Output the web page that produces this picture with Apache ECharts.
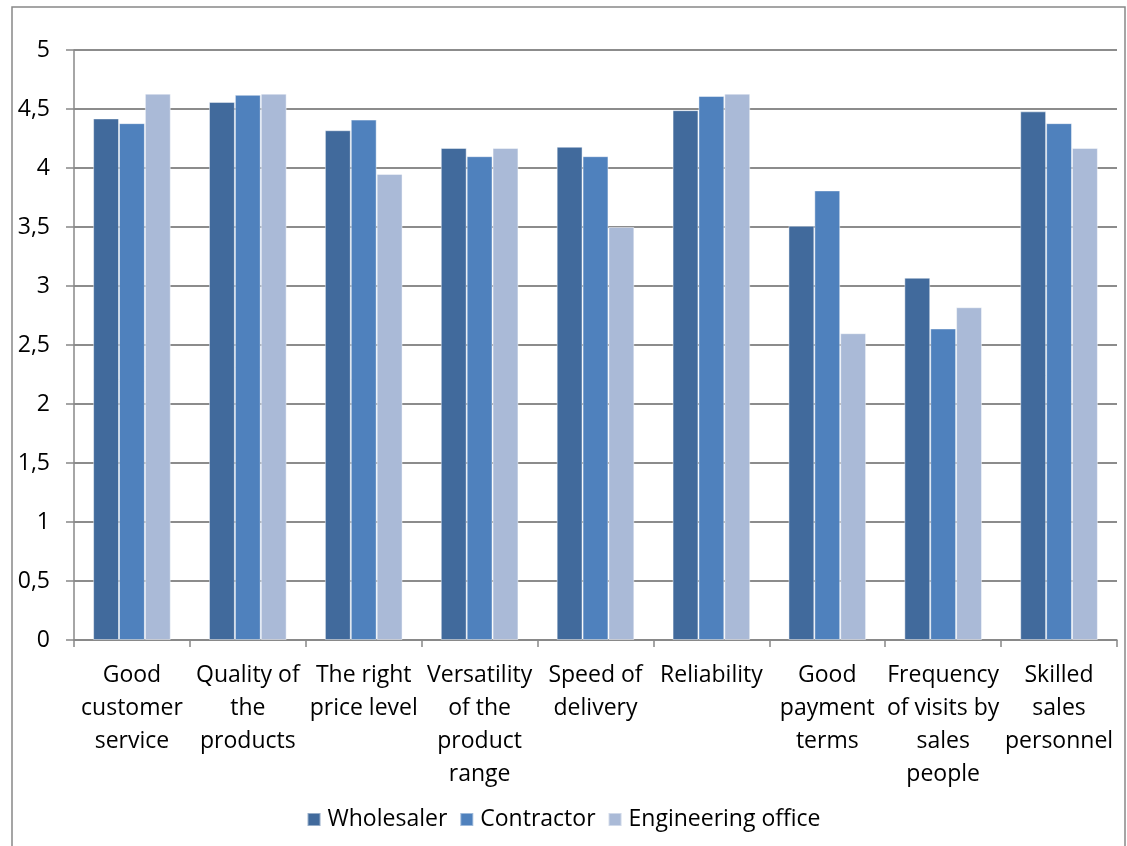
<!DOCTYPE html>
<html>
<head>
<meta charset="utf-8">
<title>Importance of supplier attributes</title>
<script src="https://cdn.jsdelivr.net/npm/echarts@6/dist/echarts.min.js"></script>
<style>
  html, body { margin: 0; padding: 0; background: #ffffff; }
  #chart { width: 1127px; height: 846px; }
</style>
</head>
<body>
<div id="chart"></div>
<script>
// Attribute names (category axis) and their wrapped tick labels
const categories = [
  'Good customer service',
  'Quality of the products',
  'The right price level',
  'Versatility of the product range',
  'Speed of delivery',
  'Reliability',
  'Good payment terms',
  'Frequency of visits by sales people',
  'Skilled sales personnel'
];
const categoryLabels = [
  'Good\ncustomer\nservice',
  'Quality of\nthe\nproducts',
  'The right\nprice level',
  'Versatility\nof the\nproduct\nrange',
  'Speed of\ndelivery',
  'Reliability',
  'Good\npayment\nterms',
  'Frequency\nof visits by\nsales\npeople',
  'Skilled\nsales\npersonnel'
];

// Mean scores per customer group
const wholesaler        = [4.42, 4.56, 4.32, 4.17, 4.18, 4.49, 3.51, 3.07, 4.48];
const contractor        = [4.38, 4.62, 4.41, 4.10, 4.10, 4.61, 3.81, 2.64, 4.38];
const engineeringOffice = [4.63, 4.63, 3.95, 4.17, 3.50, 4.63, 2.60, 2.82, 4.17];

const seriesNames = ['Wholesaler', 'Contractor', 'Engineering office'];
const seriesColors = ['#416A9C', '#4F81BD', '#AABAD7'];

const font = '"Open Sans", "Noto Sans", sans-serif';
const fontSize = 23;
const chart = echarts.init(document.getElementById('chart'), null, { renderer: 'canvas' });

const labelMap = {};
categories.forEach((c, i) => { labelMap[c] = categoryLabels[i]; });

chart.setOption({
  backgroundColor: '#ffffff',
  animation: false,
  textStyle: { fontFamily: font },
  graphic: [{
    type: 'rect',
    shape: { x: 12, y: 7, width: 1113, height: 850 },
    style: { fill: 'none', stroke: '#888888', lineWidth: 1.5 },
    silent: true
  }],
  grid: { left: 74, right: 10, top: 50, bottom: 206, containLabel: false },
  legend: {
    bottom: 10,
    left: 'center',
    itemWidth: 13,
    itemHeight: 13,
    itemGap: 12,
    icon: 'rect',
    textStyle: { fontFamily: font, fontSize: fontSize, color: '#000000', padding: [0, 0, 0, 2] },
    data: seriesNames
  },
  xAxis: {
    type: 'category',
    data: categories,
    axisLine: { show: true, lineStyle: { color: '#888888', width: 1.5 } },
    axisTick: { show: true, alignWithLabel: false, length: 7, lineStyle: { color: '#888888', width: 1.5 } },
    axisLabel: {
      interval: 0,
      margin: 19,
      fontFamily: font,
      fontSize: fontSize,
      lineHeight: 33,
      color: '#000000',
      align: 'center',
      formatter: v => labelMap[v]
    }
  },
  yAxis: {
    type: 'value',
    min: 0,
    max: 5,
    interval: 0.5,
    axisLine: { show: true, lineStyle: { color: '#888888', width: 1.5 } },
    axisTick: { show: true, length: 8, lineStyle: { color: '#888888', width: 1.5 } },
    splitLine: { show: true, lineStyle: { color: '#8c8c8c', width: 2 } },
    axisLabel: {
      margin: 24,
      fontFamily: font,
      fontSize: fontSize,
      color: '#000000',
      formatter: v => String(v).replace('.', ',')
    }
  },
  series: [wholesaler, contractor, engineeringOffice].map((values, i) => ({
    name: seriesNames[i],
    type: 'bar',
    data: values,
    barGap: '0%',
    barCategoryGap: '33%',
    itemStyle: {
      color: seriesColors[i],
      borderColor: 'rgba(255,255,255,0.45)',
      borderWidth: 1
    }
  }))
});
</script>
</body>
</html>
